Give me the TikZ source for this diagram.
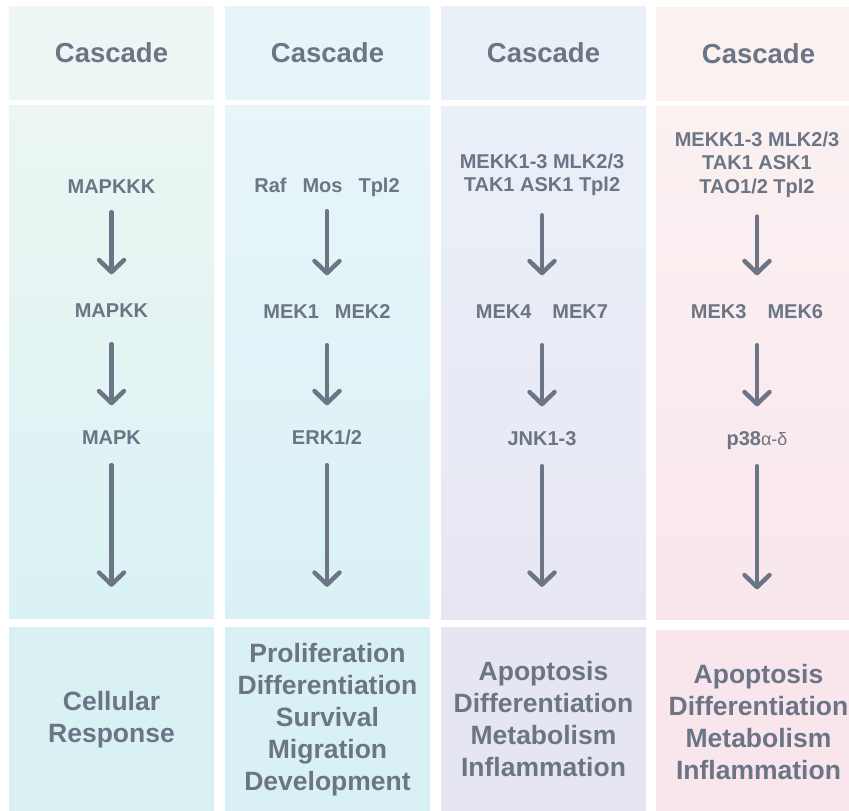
\documentclass[tikz,border=0pt]{standalone}
\usepackage{fontspec}
\setmainfont{Liberation Sans}
\usetikzlibrary{arrows.meta,calc}
\definecolor{txt}{HTML}{6B7585}
\definecolor{hA}{HTML}{EDF6F4}\definecolor{mAt}{HTML}{ECF6F3}\definecolor{mAb}{HTML}{DAF2F4}\definecolor{bA}{HTML}{D9F1F3}
\definecolor{hB}{HTML}{E8F5F8}\definecolor{mBt}{HTML}{E8F5F9}\definecolor{mBb}{HTML}{D9F1F6}\definecolor{bB}{HTML}{D9F1F5}
\definecolor{hC}{HTML}{EAF0F8}\definecolor{mCt}{HTML}{EAF0F8}\definecolor{mCb}{HTML}{E7E7F3}\definecolor{bC}{HTML}{E6E6F2}
\definecolor{hD}{HTML}{FBF1F1}\definecolor{mDt}{HTML}{FBF1F1}\definecolor{mDb}{HTML}{F8E6EC}\definecolor{bD}{HTML}{F8E6EC}
\begin{document}
\begin{tikzpicture}[x=1pt,y=-1pt,
  colbox/.style={draw=none, inner sep=0pt, minimum width=205pt, align=center, text=txt,
    font=\bfseries\fontsize{26.5}{32}\selectfont},
  headbox/.style={colbox, minimum height=94pt, font=\bfseries\fontsize{27.5}{33}\selectfont},
  midbox/.style={colbox, minimum height=513pt},
  outbox/.style={colbox, minimum height=185pt},
  item/.style={inner sep=0pt, text=txt, align=center, font=\bfseries\fontsize{20}{23.5}\selectfont},
  oneline/.style={item, text height=14.5pt, text depth=0pt, anchor=base},
  arr/.style={draw=txt, line width=4.5pt, line cap=round,
    -{Straight Barb[length=12pt,width=25pt,round]}}
]
\useasboundingbox (0,0) rectangle (849,811);
\clip (0,0) rectangle (849,811);
\fill[white] (0,0) rectangle (849,811);

% column 1
\node[headbox, fill=hA] (hA) at (111.5,53) {Cascade};
\node[midbox, top color=mAt, bottom color=mAb] (mA) at (111.5,361.5) {};
\node[outbox, fill=bA] (bA) at (111.5,719.5) {Cellular\\Response};
% column 2
\node[headbox, fill=hB] (hB) at (327.5,53) {Cascade};
\node[midbox, top color=mBt, bottom color=mBb] (mB) at (327.5,362) {};
\node[outbox, fill=bB] (bB) at (327.5,719.5) {Proliferation\\Differentiation\\Survival\\Migration\\Development};
% column 3
\node[headbox, fill=hC] (hC) at (543.5,53) {Cascade};
\node[midbox, top color=mCt, bottom color=mCb] (mC) at (543.5,362.5) {};
\node[outbox, fill=bC] (bC) at (543.5,719.5) {Apoptosis\\Differentiation\\Metabolism\\Inflammation};
% column 4
\node[headbox, fill=hD] (hD) at (758.5,54) {Cascade};
\node[midbox, top color=mDt, bottom color=mDb] (mD) at (758.5,362.5) {};
\node[outbox, fill=bD] (bD) at (758.5,722) {Apoptosis\\Differentiation\\Metabolism\\Inflammation};

% items column 1
\node[oneline] (a1) at (111.5,193) {MAPKKK};
\node[oneline] (a2) at (111.5,317) {MAPKK};
\node[oneline] (a3) at (111.5,444) {MAPK};
% items column 2
\node[oneline] (b1) at (327,192) {Raf\hspace{16pt}Mos\hspace{16pt}Tpl2};
\node[oneline] (b2) at (327,318) {MEK1\hspace{16pt}MEK2};
\node[oneline] (b3) at (327,444) {ERK1/2};
% items column 3
\node[item] (c1) at (542,175) {MEKK1-3 MLK2/3\\TAK1 ASK1 Tpl2};
\node[oneline] (c2) at (542,318) {MEK4\hspace{21pt}MEK7};
\node[oneline] (c3) at (542,445) {JNK1-3};
% items column 4
\node[item] (d1) at (757,164.5) {MEKK1-3 MLK2/3\\TAK1 ASK1\\TAO1/2 Tpl2};
\node[oneline] (d2) at (757,318) {MEK3\hspace{21pt}MEK6};
\node[oneline] (d3) at (757,445) {p38{\mdseries\fontsize{18}{20}\selectfont α-δ}};

% arrows
\foreach \u/\v/\w/\o in {a1/a2/a3/bA, b1/b2/b3/bB, c1/c2/c3/bC, d1/d2/d3/bD}{
  \draw[arr] ($(\u.south)+(0,19)$) -- ($(\v.north)+(0,-28)$);
  \draw[arr] ($(\v.south)+(0,27)$) -- ($(\w.north)+(0,-24)$);
  \draw[arr] ($(\w.south)+(0,21)$) -- ($(\w.south |- \o.north)+(0,-40)$);
}
\end{tikzpicture}
\end{document}
